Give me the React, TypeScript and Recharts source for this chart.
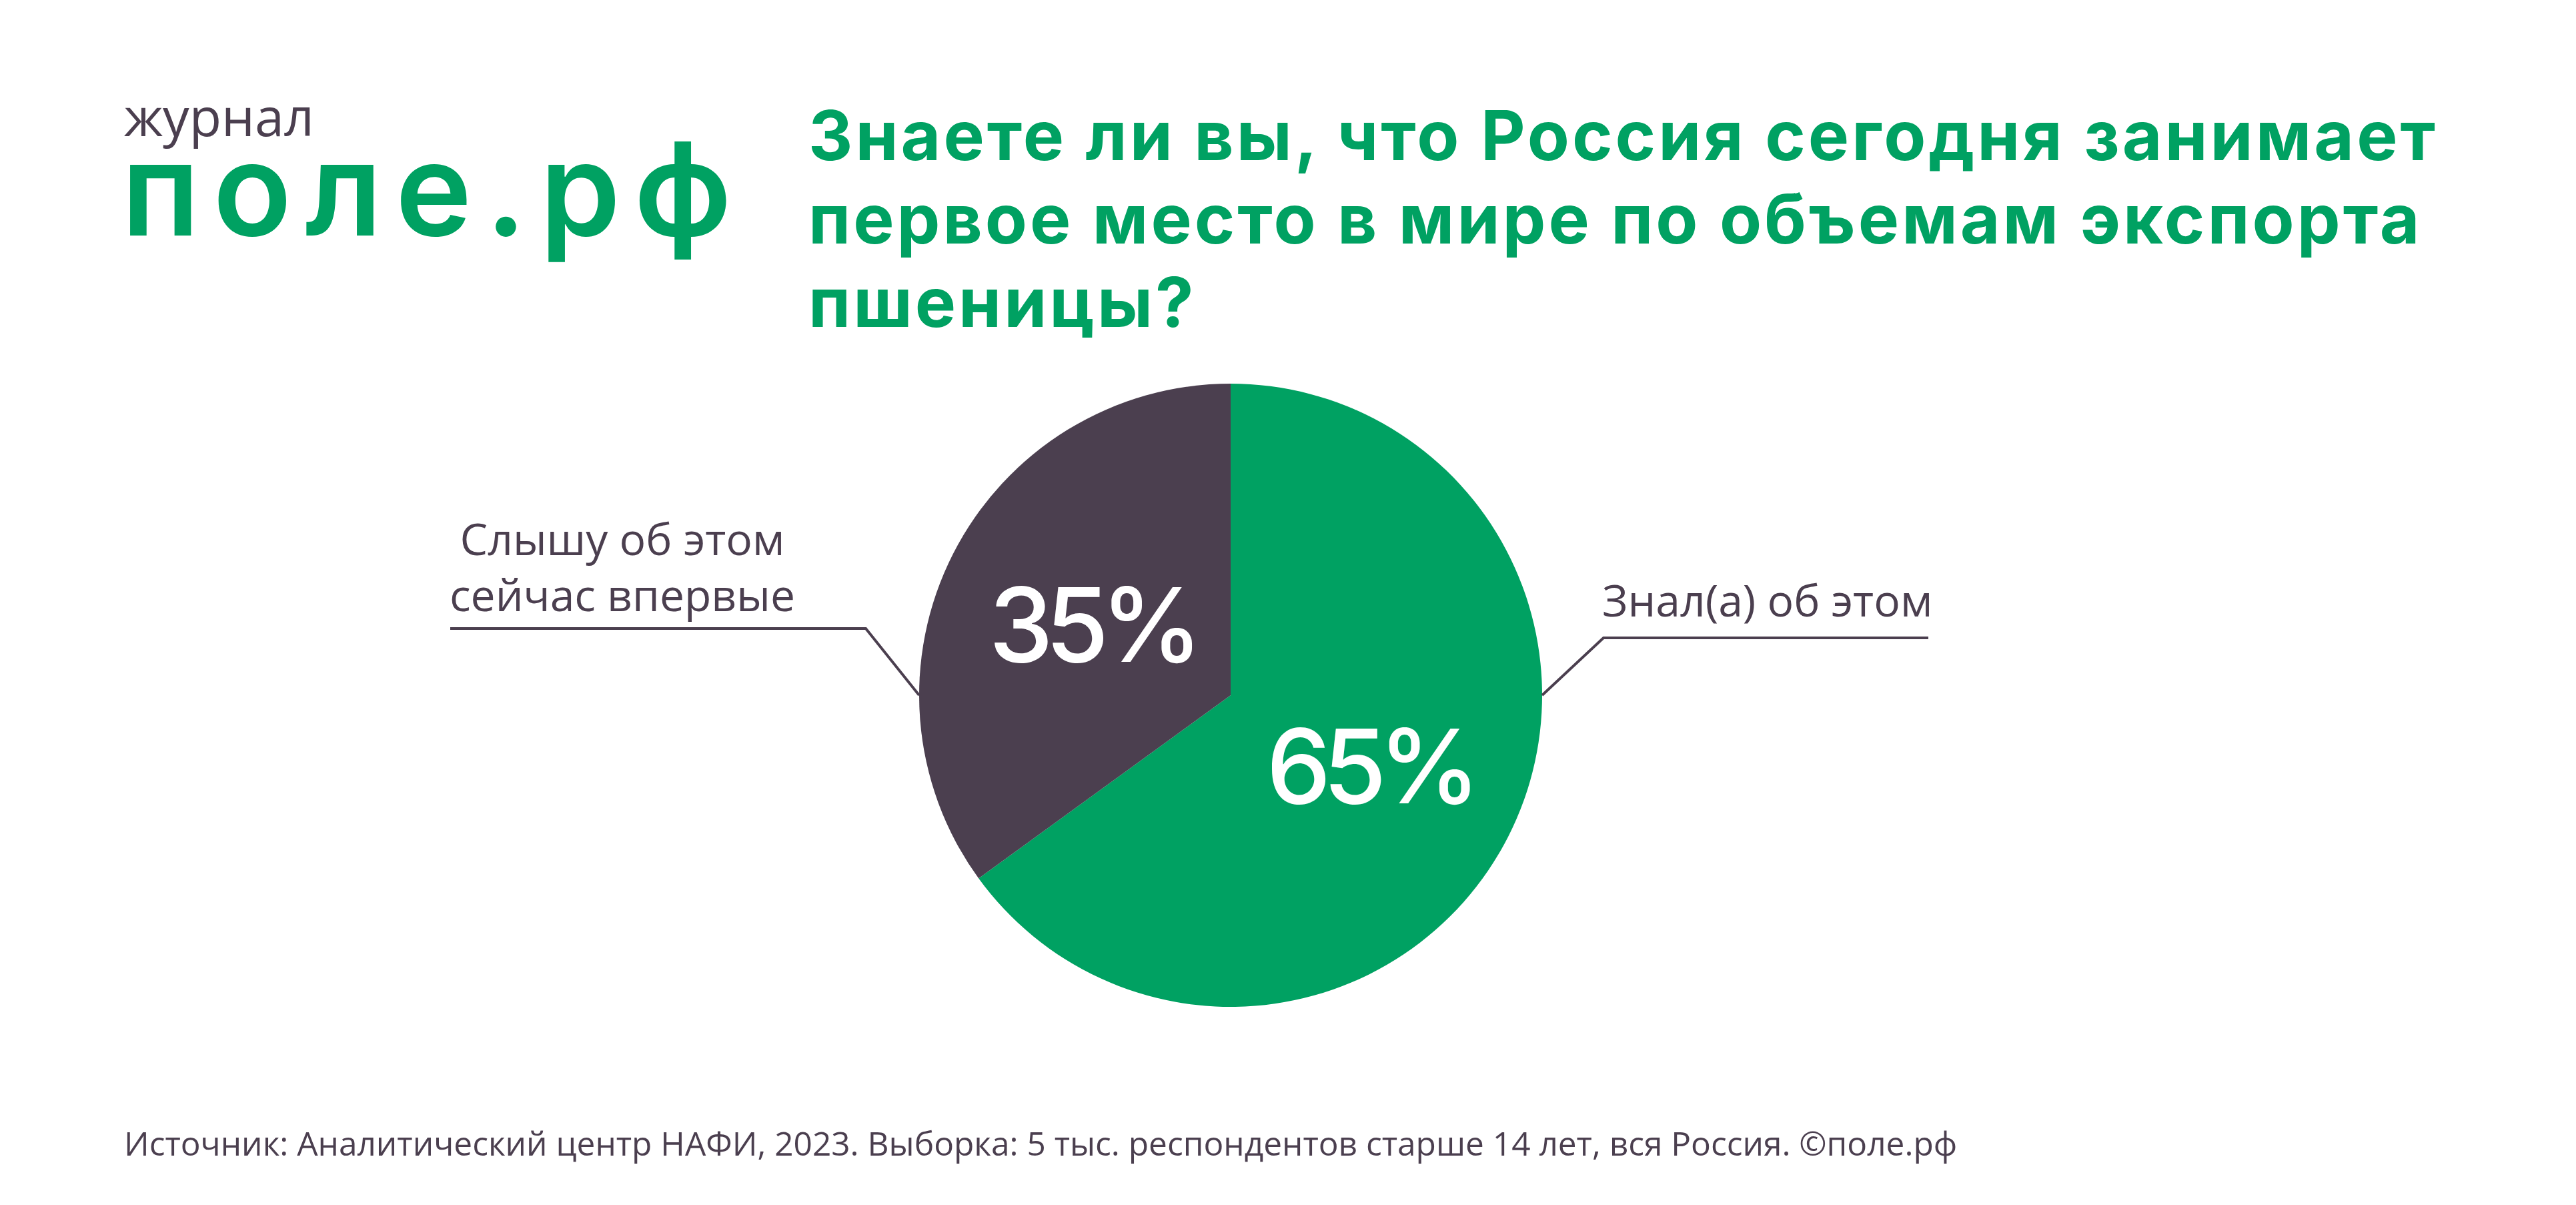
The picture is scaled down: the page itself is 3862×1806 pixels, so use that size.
import { PieChart, Pie, Cell } from 'recharts';

const categories = ['Знал(а) об этом', 'Слышу об этом сейчас впервые'];
const shares = [65, 35];
const labelRows = [['Знал(а) об этом'], ['Слышу об этом', 'сейчас впервые']];
const titleRows = [
  'Знаете ли вы, что Россия сегодня занимает',
  'первое место в мире по объемам экспорта',
  'пшеницы?',
];
const sourceText =
  'Источник: Аналитический центр НАФИ, 2023. Выборка: 5 тыс. респондентов старше 14 лет, вся Россия. ©поле.рф';

const GREEN = '#00a162';
const DARK = '#4b3f4f';
const COLORS = [GREEN, DARK];

const data = categories.map((name, i) => ({ name, value: shares[i] }));

const W = 3862;
const H = 1806;

function SliceLabel(props: any) {
  const { cx, cy, midAngle, outerRadius, index, value } = props;
  const rad = (Math.PI / 180) * midAngle;
  const px = cx + outerRadius * 0.5 * Math.cos(rad);
  const py = cy - outerRadius * 0.5 * Math.sin(rad);
  const side = Math.cos(rad) >= 0 ? 1 : -1;
  const ex = cx + side * outerRadius;
  const ey = cy;
  const rows = labelRows[index];

  let lead;
  let text;
  if (side > 0) {
    const kx = ex + 92;
    const ky = ey - 86;
    lead = `M${ex},${ey} L${kx},${ky} L${kx + 487},${ky}`;
    text = (
      <text x={kx - 2} y={ky - 32} fill={DARK} fontFamily="'Open Sans'" fontSize={66}>
        {rows[0]}
      </text>
    );
  } else {
    const kx = ex - 80;
    const ky = ey - 100;
    lead = `M${ex},${ey} L${kx},${ky} L${kx - 623},${ky}`;
    text = (
      <text fill={DARK} fontFamily="'Open Sans'" fontSize={66} textAnchor="middle">
        {rows.map((r: string, i: number) => (
          <tspan key={i} x={kx - 365} y={ky - 110 + i * 84}>
            {r}
          </tspan>
        ))}
      </text>
    );
  }

  return (
    <g>
      <path d={lead} stroke={DARK} strokeWidth={4} fill="none" />
      {text}
      <text
        x={px}
        y={py}
        fill="#fff"
        fontFamily="Inter"
        fontWeight={500}
        fontSize={154}
        letterSpacing={-12}
        textAnchor="middle"
        dominantBaseline="central"
      >
        {value}%
      </text>
    </g>
  );
}

export default function App() {
  return (
    <div style={{ position: 'absolute', left: 0, top: 0, width: W, height: H, background: '#fff' }}>
      <svg width={W} height={H} style={{ position: 'absolute', left: 0, top: 0 }}>
        <text x={186} y={204} fill={DARK} fontFamily="'Open Sans'" fontSize={79}>
          журнал
        </text>
        <text
          x={182}
          y={353}
          fill={GREEN}
          fontFamily="Inter"
          fontWeight={600}
          fontSize={194}
          letterSpacing={20}
        >
          поле.рф
        </text>
        {titleRows.map((t, i) => (
          <text
            key={i}
            x={1212}
            y={240 + i * 125}
            fill={GREEN}
            fontFamily="Inter"
            fontWeight={700}
            fontSize={103}
            letterSpacing={4}
          >
            {t}
          </text>
        ))}
        <text x={186} y={1732} fill={DARK} fontFamily="'Open Sans'" fontSize={49.6}>
          {sourceText}
        </text>
      </svg>
      <div style={{ position: 'absolute', left: 0, top: 0 }}>
        <PieChart width={W} height={H}>
          <Pie
            data={data}
            dataKey="value"
            nameKey="name"
            cx={1840}
            cy={1037}
            outerRadius={467}
            startAngle={90}
            endAngle={-270}
            stroke="none"
            label={SliceLabel}
            labelLine={false}
            isAnimationActive={false}
          >
            {data.map((d, i) => (
              <Cell key={d.name} fill={COLORS[i]} />
            ))}
          </Pie>
        </PieChart>
      </div>
    </div>
  );
}
